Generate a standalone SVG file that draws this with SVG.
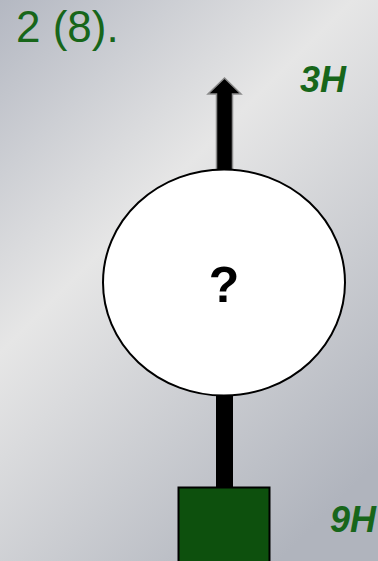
<svg xmlns="http://www.w3.org/2000/svg" width="378" height="561" viewBox="0 0 378 561">
<defs>
<linearGradient id="bg" x1="0" y1="0" x2="420" y2="420" gradientUnits="userSpaceOnUse">
<stop offset="0" stop-color="#b4b8c2"/>
<stop offset="0.42" stop-color="#e6e6e6"/>
<stop offset="1" stop-color="#b0b4bd"/>
</linearGradient>
<style>
.lbl{font-family:"Liberation Sans",Arial,sans-serif;fill:#17661a;}
.hl{font-weight:bold;font-style:italic;font-size:36px;}
</style>
</defs>
<rect x="0" y="0" width="378" height="561" fill="url(#bg)"/>
<text class="lbl" x="16" y="42" font-size="44">2 (8).</text>
<g id="connectors">
<path d="M216.5,170 V94 H208 L224.5,78 L241,94 H232.5 V170 Z" fill="#000" stroke="#8a8a8a" stroke-width="1.5"/>
<rect x="216" y="394" width="17" height="94" fill="#000"/>
</g>
<g id="node-circle">
<ellipse cx="224" cy="282.5" rx="121" ry="113" fill="#fff" stroke="#000" stroke-width="2"/>
<text x="224" y="302" text-anchor="middle" font-family="Liberation Sans,Arial,sans-serif" font-weight="bold" font-size="50" fill="#000">?</text>
</g>
<g id="node-box">
<rect x="178.5" y="487.5" width="91" height="80" fill="#0d500d" stroke="#000" stroke-width="2"/>
</g>
<text class="lbl hl" x="300" y="92">3H</text>
<text class="lbl hl" x="330" y="532">9H</text>
</svg>
